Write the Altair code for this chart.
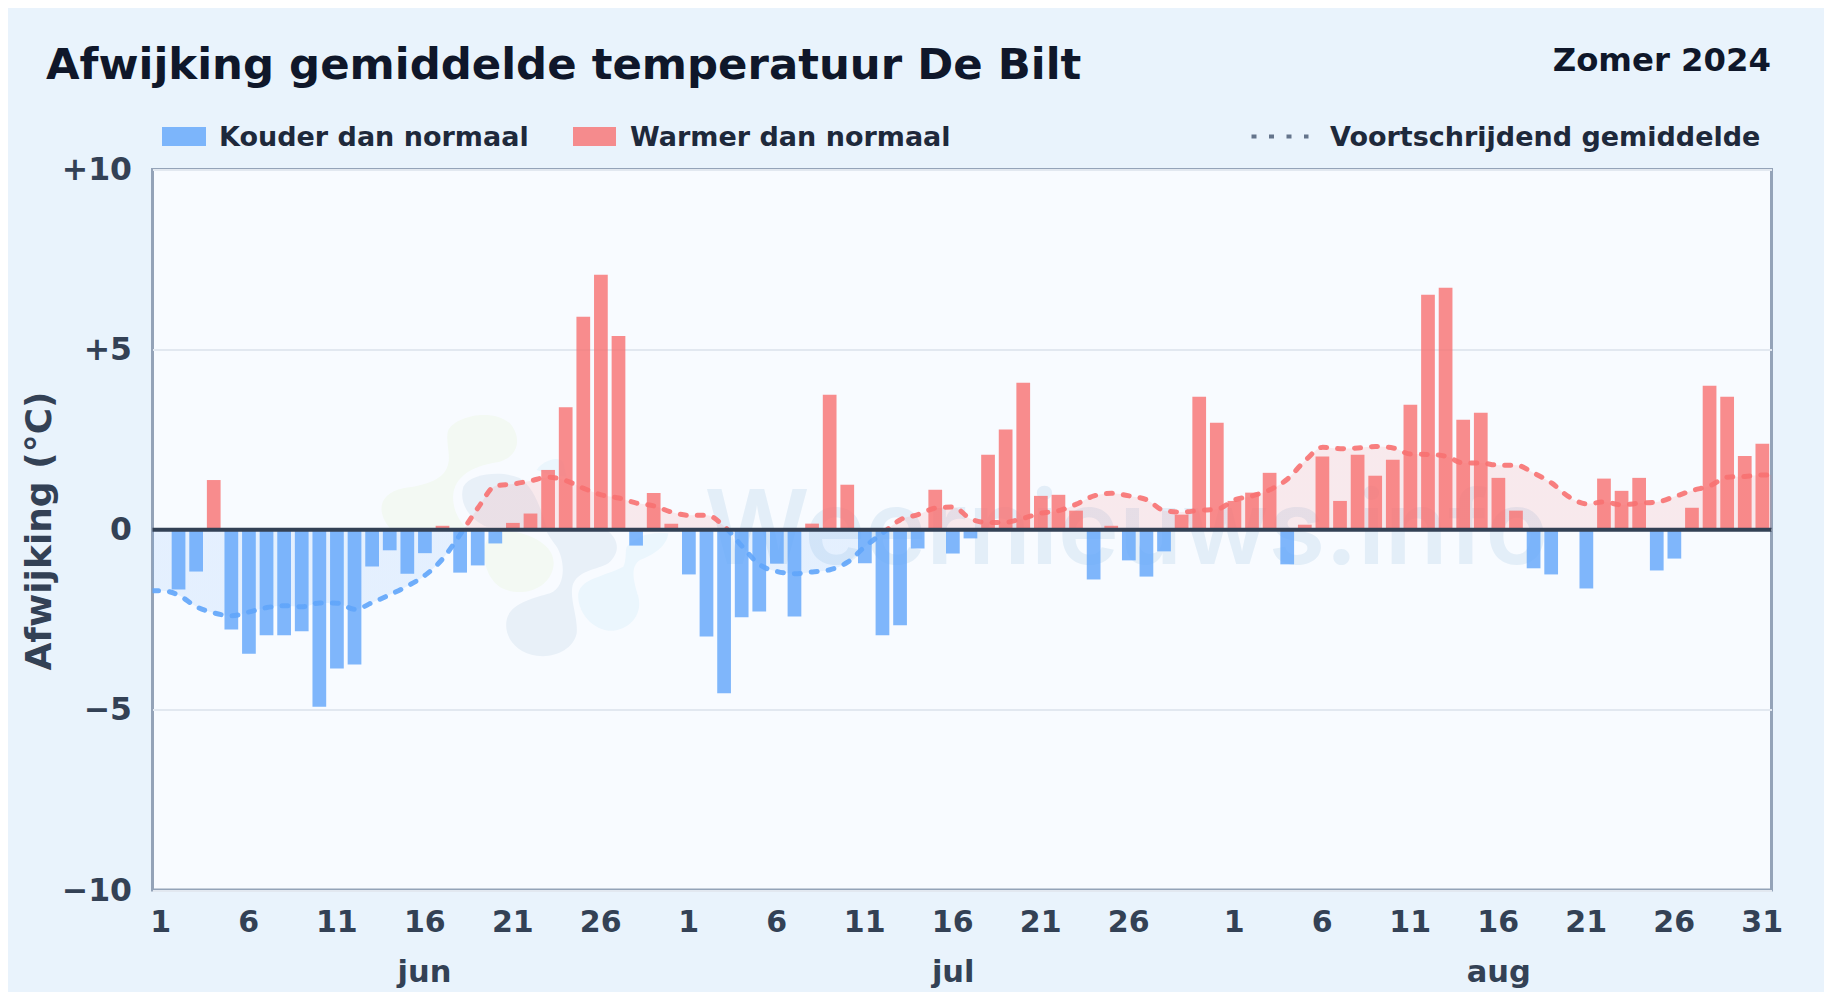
import altair as alt
import pandas as pd

TITLE = "Afwijking gemiddelde temperatuur De Bilt"
SUBTITLE = "Zomer 2024"
MONTHS = ["jun", "jul", "aug"]
MONTH_LENGTHS = [30, 31, 31]
MONTH_CENTERS = [15.46, 45.5, 76.5]

afwijking = [
    # juni
    0, -1.66, -1.16, 1.38, -2.77, -3.44, -2.93, -2.93, -2.82, -4.91,
    -3.85, -3.74, -1.02, -0.57, -1.22, -0.65, 0.11, -1.19, -0.99, -0.38,
    0.19, 0.45, 1.66, 3.40, 5.91, 7.08, 5.38, -0.44, 1.02, 0.17,
    # juli
    -1.24, -2.96, -4.54, -2.43, -2.27, -0.94, -2.41, 0.17, 3.75, 1.25,
    -0.93, -2.93, -2.65, -0.52, 1.11, -0.66, -0.24, 2.08, 2.78, 4.08,
    0.94, 0.97, 0.53, -1.38, 0.11, -0.85, -1.30, -0.60, 0.42, 3.69, 2.97,
    # augustus
    0.80, 1.03, 1.58, -0.96, 0.14, 2.03, 0.80, 2.08, 1.50, 1.94,
    3.47, 6.52, 6.72, 3.05, 3.25, 1.44, 0.53, -1.07, -1.24, 0, -1.63,
    1.42, 1.08, 1.44, -1.13, -0.80, 0.61, 4.00, 3.69, 2.05, 2.39,
]

gemiddelde = [
    # juni
    -1.69, -1.82, -2.14, -2.31, -2.39, -2.28, -2.16, -2.11, -2.14, -2.03,
    -2.04, -2.21, -2.02, -1.80, -1.56, -1.26, -0.80, -0.12, 0.61, 1.22,
    1.27, 1.36, 1.46, 1.36, 1.15, 0.97, 0.88, 0.74, 0.66, 0.49,
    # juli
    0.40, 0.40, 0.09, -0.46, -0.97, -1.16, -1.22, -1.17, -1.11, -0.90,
    -0.46, -0.09, 0.28, 0.42, 0.60, 0.63, 0.30, 0.20, 0.21, 0.32,
    0.46, 0.53, 0.71, 0.94, 1.01, 0.94, 0.83, 0.53, 0.49, 0.54, 0.57,
    # augustus
    0.83, 0.94, 1.11, 1.41, 1.92, 2.29, 2.25, 2.27, 2.31, 2.27,
    2.10, 2.09, 2.04, 1.85, 1.85, 1.79, 1.79, 1.57, 1.30, 0.91, 0.72,
    0.77, 0.69, 0.74, 0.77, 0.92, 1.09, 1.22, 1.46, 1.48, 1.52,
]

BLUE, RED = "#60a5fa", "#f87171"
INK, SLATE, DARK = "#0f172a", "#334155", "#1e293b"
FONT = "DejaVu Sans"
N = len(afwijking)

# dag van de maand per index; 31 juli krijgt geen label (botst met 1 aug)
days = [d + 1 for m in MONTH_LENGTHS for d in range(m)]
tick_idx = [i for i, d in enumerate(days) if (d - 1) % 5 == 0 and i != 60]
tick_text = {str(i + 0.5): str(days[i]) for i in tick_idx}

bars = pd.DataFrame({
    "x0": [i + 0.09 for i in range(N)],
    "x1": [i + 0.87 for i in range(N)],
    "v": afwijking,
    "soort": ["warm" if v > 0 else "koud" for v in afwijking],
})
line = pd.DataFrame({
    "x": [0.0] + [i + 0.5 for i in range(N)] + [float(N)],
    "v": [gemiddelde[0]] + gemiddelde + [gemiddelde[-1]],
})
hi, lo = max(gemiddelde), min(gemiddelde)
cut = hi / (hi - lo)


def split_gradient():
    return alt.LinearGradient(
        gradient="linear", x1=0, y1=0, x2=0, y2=1,
        stops=[
            alt.GradientStop(offset=0, color=RED),
            alt.GradientStop(offset=cut, color=RED),
            alt.GradientStop(offset=cut, color=BLUE),
            alt.GradientStop(offset=1, color=BLUE),
        ],
    )


x_scale = alt.Scale(domain=[0, N], nice=False, zero=False)
y_scale = alt.Scale(domain=[-10, 10], nice=False)

label_expr = "{" + ",".join(f"'{k}':'{v}'" for k, v in tick_text.items()) + "}[''+datum.value]"

x_axis = alt.Axis(
    values=[i + 0.5 for i in tick_idx], labelExpr=label_expr, title=None,
    grid=False, ticks=False, domain=False, labelFont=FONT, labelFontSize=30,
    labelFontWeight="bold", labelColor=SLATE, labelPadding=17, labelAngle=0, labelOffset=-1,
    labelOverlap=False, labelBound=False, labelFlush=False, labelAlign="center",
)
y_axis = alt.Axis(
    values=[-10, -5, 0, 5, 10],
    labelExpr="datum.value > 0 ? '+' + datum.value : (datum.value < 0 ? '\u2212' + abs(datum.value) : '0')",
    title="Afwijking (\u00b0C)", titleFont=FONT, titleFontSize=36, titleFontWeight="bold",
    titleColor=SLATE, titleX=-102, titleY=361, titleAngle=270, titleAlign="center",
    titleBaseline="alphabetic",
    grid=True, gridColor="#e2e8f0", gridWidth=2, ticks=False, domain=False,
    labelFont=FONT, labelFontSize=31.5, labelFontWeight="bold", labelColor=SLATE,
    labelPadding=21, labelOffset=1, labelOverlap=False, labelBound=False, labelFlush=False,
)

X0 = alt.X("x0:Q", scale=x_scale, axis=x_axis)
Y = alt.Y("v:Q", scale=y_scale, axis=y_axis)
layers = []

# Watermerk: logo-vlekken en tekst
logo_paths = [
    ("#f3f9f3", "M265,120 C290,75 400,55 450,100 C490,150 470,200 420,215 C350,225 290,250 280,310 "
                "C275,360 300,395 320,415 L90,415 C45,360 60,310 130,295 C200,285 255,270 265,220 C272,190 255,150 265,120 Z"),
    ("#f3f9f3", "M430,420 C520,430 590,470 580,530 C570,590 500,620 440,600 C390,585 365,520 375,470 C378,445 400,425 430,420 Z"),
    ("#e8f0f8", "M310,290 C330,250 430,240 480,265 C520,290 545,360 560,415 L380,410 C330,390 295,340 310,290 Z"),
    ("#e8f0f8", "M560,425 L740,420 C780,450 780,490 745,520 C710,540 660,540 640,580 C625,620 655,680 650,730 "
                "C640,780 580,805 530,797 C470,790 430,740 440,690 C450,640 520,625 570,610 C620,590 615,510 590,470 C575,450 565,435 560,425 Z"),
    ("#ebf6fd", "M800,470 C830,440 860,425 925,430 C920,470 880,495 840,510 C810,530 820,570 835,620 "
                "C850,680 800,725 745,722 C690,715 650,660 655,610 C665,565 730,560 790,530 C800,510 795,485 800,470 Z"),
    ("#ebf6fd", "M530,240 C545,215 590,195 610,215 L620,260 L570,255 Z"),
]
for color, path in logo_paths:
    layers.append(
        alt.Chart(pd.DataFrame({"a": [0]}))
        .mark_point(shape=path, filled=True, color=color, opacity=1, strokeWidth=0)
        .encode(x=alt.value(207.5), y=alt.value(220.5), size=alt.value(4 / 9))
    )
layers.append(
    alt.Chart(pd.DataFrame({"t": ["Weernieuws.info"]}))
    .mark_text(font="Inter", fontSize=103, fontWeight=600, color="#e3eef8", align="left", baseline="alphabetic")
    .encode(x=alt.value(552), y=alt.value(394), text="t:N")
)

# Gebied en balken
layers.append(
    alt.Chart(line)
    .mark_area(interpolate="monotone", fill=split_gradient(), opacity=0.13)
    .encode(x=alt.X("x:Q", scale=x_scale, axis=x_axis), y=Y, y2=alt.Y2(datum=0))
)
layers.append(
    alt.Chart(bars)
    .mark_rect(opacity=0.8)
    .encode(
        x=X0, x2="x1:Q", y=Y, y2=alt.Y2(datum=0),
        color=alt.Color("soort:N", scale=alt.Scale(domain=["koud", "warm"], range=[BLUE, RED]), legend=None),
    )
)
# Voortschrijdend gemiddelde
layers.append(
    alt.Chart(line)
    .mark_line(interpolate="monotone", stroke=split_gradient(), strokeWidth=5, strokeDash=[6, 11],
               strokeCap="round", opacity=0.9, clip=True)
    .encode(x=alt.X("x:Q", scale=x_scale, axis=x_axis), y=Y)
)
# Nullijn
layers.append(
    alt.Chart(pd.DataFrame({"z": [0]}))
    .mark_rule(color=SLATE, strokeWidth=4)
    .encode(y=alt.Y("z:Q", scale=y_scale, axis=y_axis))
)

# Maandnamen
layers.append(
    alt.Chart(pd.DataFrame({"x": MONTH_CENTERS, "t": MONTHS}))
    .mark_text(font=FONT, fontSize=30.5, fontWeight="bold", color=SLATE, baseline="alphabetic", clip=False)
    .encode(x=alt.X("x:Q", scale=x_scale, axis=x_axis), y=alt.value(812), text="t:N")
)


def label(text, px, py, size, color, align="left"):
    return (
        alt.Chart(pd.DataFrame({"t": [text]}))
        .mark_text(font=FONT, fontSize=size, fontWeight="bold", color=color, align=align, baseline="alphabetic")
        .encode(x=alt.value(px), y=alt.value(py), text="t:N")
    )


# Titels
layers.append(label(TITLE, -106.5, -90.5, 43.4, INK))
layers.append(label(SUBTITLE, 1618.5, -98.5, 32.3, INK, "right"))

# Legenda
for c, x1, x2, text, tx in [
    (BLUE, 9.5, 53.5, "Kouder dan normaal", 66.5),
    (RED, 420.5, 463.5, "Warmer dan normaal", 477.5),
]:
    layers.append(
        alt.Chart(pd.DataFrame({"a": [0]}))
        .mark_rect(color=c, opacity=0.8)
        .encode(x=alt.value(x1), x2=alt.value(x2), y=alt.value(-42.5), y2=alt.value(-23.5))
    )
    layers.append(label(text, tx, -24, 27, DARK))
layers.append(
    alt.Chart(pd.DataFrame({"a": [0]}))
    .mark_rule(color="#64748b", strokeWidth=4, strokeDash=[5, 12.5])
    .encode(x=alt.value(1099), x2=alt.value(1156), y=alt.value(-33))
)
layers.append(label("Voortschrijdend gemiddelde", 1177.5, -24, 27, DARK))

chart = (
    alt.layer(*layers)
    .properties(
        width=1619, height=720.5,
        autosize=alt.AutoSizeParams(type="none"),
        padding={"left": 144.5, "top": 161.5, "right": 52.5, "bottom": 102},
        background="#e9f3fc",
    )
    .configure_view(fill="#f8fbff", stroke="#94a3b8", strokeWidth=3)
)

chart.save("out.html", embed_options={"renderer": "svg", "actions": False})
